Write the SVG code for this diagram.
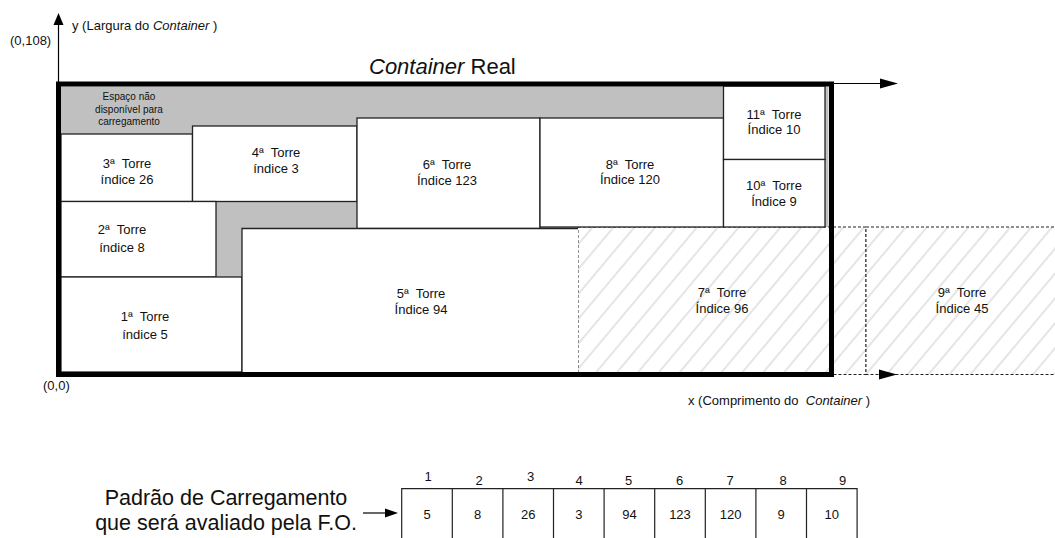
<svg xmlns="http://www.w3.org/2000/svg" width="1055" height="538" viewBox="0 0 1055 538">
<style>
text{font-family:"Liberation Sans",Arial,sans-serif;fill:#111}
.t{font-size:13px;text-anchor:middle}
.s{font-size:10px;text-anchor:middle}
.ax{font-size:13px}
.tw{fill:#fff;stroke:#222;stroke-width:1.3}
.dash{fill:url(#hatch);stroke:#222;stroke-width:1;stroke-dasharray:3 2}
.wall{fill:none;stroke:#000;stroke-width:5}
.ln{stroke:#000;stroke-width:1.2;fill:none}
.ah{fill:#000}
.cell{stroke:#222;stroke-width:1.2;fill:none}
</style>
<defs>
<pattern id="hatch" patternUnits="userSpaceOnUse" width="16" height="16" patternTransform="rotate(40)">
<rect width="16" height="16" fill="#fff"/>
<line x1="8" y1="-2" x2="8" y2="18" stroke="#b4b4b4" stroke-width="0.7"/>
</pattern>
</defs>

<g id="unavailable">
<rect x="61" y="86.5" width="767.5" height="285.5" fill="#c0c0c0"/>
<text class="s" x="129" y="100">Espaço não</text>
<text class="s" x="129" y="112.5">disponível para</text>
<text class="s" x="129" y="124.5">carregamento</text>
</g>

<g id="torre7">
<rect class="dash" x="578" y="227" width="288" height="147.5"/>
<text class="t" x="722" y="297">7ª&#160; Torre</text>
<text class="t" x="722" y="312.5">Índice 96</text>
</g>
<g id="torre9">
<rect class="dash" x="866" y="227" width="200" height="147.5"/>
<text class="t" x="962" y="297">9ª&#160; Torre</text>
<text class="t" x="962" y="312.5">Índice 45</text>
</g>

<g id="torre3">
<rect class="tw" x="61" y="134" width="131.5" height="67.5"/>
<text class="t" x="127" y="168">3ª&#160; Torre</text>
<text class="t" x="127" y="184">índice 26</text>
</g>
<g id="torre4">
<rect class="tw" x="192.5" y="126" width="164.5" height="75.5"/>
<text class="t" x="276" y="157">4ª&#160; Torre</text>
<text class="t" x="276" y="173">índice 3</text>
</g>
<g id="torre6">
<rect class="tw" x="357" y="118" width="183" height="110.5"/>
<text class="t" x="447" y="169">6ª&#160; Torre</text>
<text class="t" x="447" y="185">Índice 123</text>
</g>
<g id="torre8">
<rect class="tw" x="540" y="118" width="183.5" height="109"/>
<text class="t" x="630" y="169">8ª&#160; Torre</text>
<text class="t" x="630" y="184">Índice 120</text>
</g>
<g id="torre11">
<rect class="tw" x="723.5" y="86" width="101.5" height="73.5"/>
<text class="t" x="774" y="118.5">11ª&#160; Torre</text>
<text class="t" x="774" y="134">Índice 10</text>
</g>
<g id="torre10">
<rect class="tw" x="723.5" y="159.5" width="101.5" height="67.5"/>
<text class="t" x="774" y="189.5">10ª&#160; Torre</text>
<text class="t" x="774" y="205.5">Índice 9</text>
</g>
<g id="torre2">
<rect class="tw" x="61" y="201.5" width="155" height="75.5"/>
<text class="t" x="122" y="234">2ª&#160; Torre</text>
<text class="t" x="122" y="251.5">índice 8</text>
</g>
<g id="torre1">
<rect class="tw" x="61" y="277" width="181" height="95"/>
<text class="t" x="145" y="321">1ª&#160; Torre</text>
<text class="t" x="145" y="339">índice 5</text>
</g>
<g id="torre5">
<rect x="242" y="228.5" width="336" height="143.5" fill="#fff"/>
<path d="M578,228.5 H242 V372" fill="none" stroke="#222" stroke-width="1.3"/>
<text class="t" x="421" y="298">5ª&#160; Torre</text>
<text class="t" x="421" y="314">Índice 94</text>
</g>

<g id="container">
<rect class="wall" x="58.5" y="84" width="773" height="290.5"/>
<text x="369" y="74" font-size="22"><tspan font-style="italic">Container</tspan> Real</text>
</g>

<g id="connectors">
<line class="ln" x1="58.5" y1="24" x2="58.5" y2="84"/>
<polygon class="ah" points="58.5,13 53.5,25 63.5,25"/>
<line class="ln" x1="831" y1="83.5" x2="882" y2="83.5"/>
<polygon class="ah" points="898,83.5 880,78.5 880,88.5"/>
<polygon class="ah" points="897,374.5 879,369.5 879,379.5"/>
<line class="ln" x1="363" y1="513" x2="387" y2="513"/>
<polygon class="ah" points="398,513 385,508.5 385,517.5"/>
</g>

<g id="axis-labels">
<text class="ax" x="72" y="30" xml:space="preserve">y (Largura do <tspan font-style="italic">Container</tspan> )</text>
<text class="ax" x="10" y="45">(0,108)</text>
<text class="ax" x="43" y="390">(0,0)</text>
<text class="ax" x="688" y="405" xml:space="preserve">x (Comprimento do  <tspan font-style="italic">Container</tspan> )</text>
</g>

<g id="padrao">
<text x="226" y="505" font-size="21.5" text-anchor="middle">Padrão de Carregamento</text>
<text x="226" y="530" font-size="21.5" text-anchor="middle">que será avaliado pela F.O.</text>
</g>

<g id="table">
<path class="cell" d="M401.7,538 V488.7 H857.1 V538 M452.3,488.7 V538 M502.9,488.7 V538 M553.5,488.7 V538 M604.1,488.7 V538 M654.7,488.7 V538 M705.3,488.7 V538 M755.9,488.7 V538 M806.5,488.7 V538"/>
<text class="t" x="428" y="481">1</text>
<text class="t" x="479" y="485">2</text>
<text class="t" x="530.5" y="481">3</text>
<text class="t" x="579" y="485">4</text>
<text class="t" x="628.5" y="485">5</text>
<text class="t" x="679.5" y="485">6</text>
<text class="t" x="730" y="485">7</text>
<text class="t" x="783" y="485">8</text>
<text class="t" x="842.5" y="485">9</text>
<text class="t" x="427" y="519">5</text>
<text class="t" x="477.6" y="519">8</text>
<text class="t" x="528.2" y="519">26</text>
<text class="t" x="578.8" y="519">3</text>
<text class="t" x="629.4" y="519">94</text>
<text class="t" x="680" y="519">123</text>
<text class="t" x="730.6" y="519">120</text>
<text class="t" x="781.2" y="519">9</text>
<text class="t" x="831.8" y="519">10</text>
</g>
</svg>
